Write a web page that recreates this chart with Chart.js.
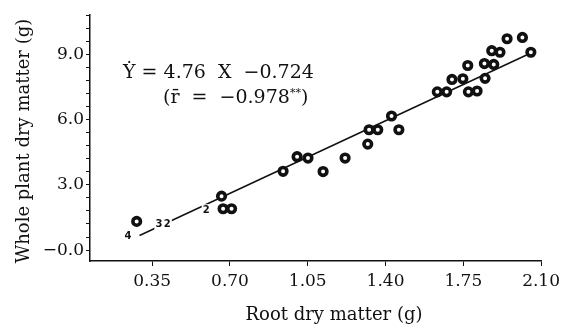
<!DOCTYPE html>
<html>
<head>
<meta charset="utf-8">
<script src="https://cdn.jsdelivr.net/npm/chart.js@4.4.1/dist/chart.umd.min.js"></script>
<style>
    body { margin: 0; background: #fff; }
    #wrap { width: 565px; height: 333px; }
</style>
</head>
<body>
<div id="wrap"><canvas id="scatter-root"></canvas></div>
<script>
// root dry matter (g) vs whole plant dry matter (g)
const rootX = [0.280, 0.662, 0.669, 0.707, 0.939, 1.002, 1.051, 1.119, 1.218,
    1.320, 1.326, 1.365, 1.427, 1.460, 1.633, 1.675, 1.699, 1.748, 1.770,
    1.773, 1.812, 1.845, 1.848, 1.878, 1.887, 1.915, 1.947, 2.016, 2.054];
const plantY = [1.32, 2.48, 1.90, 1.90, 3.62, 4.29, 4.23, 3.61, 4.23,
    4.87, 5.53, 5.53, 6.16, 5.53, 7.27, 7.27, 7.84, 7.87, 8.48,
    7.27, 7.31, 8.57, 7.89, 9.16, 8.53, 9.09, 9.71, 9.77, 9.09];

// Y = 4.76 X - 0.724, drawn between these two ends
const fitX = [0.293, 2.054];
const fitY = [0.671, 9.053];

const xTicks = [0.35, 0.70, 1.05, 1.40, 1.75, 2.10];
const yTicks = [0, 0.6, 1.2, 1.8, 2.4, 3, 3.6, 4.2, 4.8, 5.4, 6, 6.6, 7.2,
    7.8, 8.4, 9, 9.6, 10.2, 10.8];
const yMajor = [0, 3, 6, 9];
const yMajorLabels = ["\u22120.0", "3.0", "6.0", "9.0"];

// small sample-count numbers next to the line
const noteText = ["4", "3", "2", "2"];
const noteX = [0.241, 0.380, 0.418, 0.593];
const noteY = [0.61, 1.17, 1.17, 1.83];

const serif = "'DejaVu Serif', 'Liberation Serif', serif";
const ink = "#111";

const points = rootX.map(function (x, i) {
    return { x: x, y: plantY[i] };
});
const fitLine = fitX.map(function (x, i) {
    return { x: x, y: fitY[i] };
});

const textPlugin = {
    id: "figureText",
    afterDatasetsDraw: function (chart) {
        var ctx = chart.ctx;
        var sx = chart.scales.x;
        var sy = chart.scales.y;
        ctx.save();

        // sample counts
        ctx.font = "bold 10px 'DejaVu Sans', sans-serif";
        ctx.textAlign = "center";
        ctx.textBaseline = "middle";
        for (var i = 0; i < noteText.length; i++) {
            var px = sx.getPixelForValue(noteX[i]);
            var py = sy.getPixelForValue(noteY[i]);
            var w = ctx.measureText(noteText[i]).width;
            ctx.fillStyle = "#fff";
            ctx.fillRect(px - w / 2 - 1, py - 6, w + 2, 12);
            ctx.fillStyle = ink;
            ctx.fillText(noteText[i], px, py);
        }

        // regression text
        ctx.textAlign = "left";
        ctx.textBaseline = "alphabetic";
        ctx.font = "19px " + serif;
        ctx.fillText("\u1E8E = 4.76  X  \u22120.724", 123, 78);
        var line2 = "(r\u0304  =  \u22120.978";
        ctx.fillText(line2, 163, 103);
        var w2 = ctx.measureText(line2).width;
        ctx.font = "11px " + serif;
        ctx.fillText("**", 163 + w2, 96);
        var w3 = ctx.measureText("**").width;
        ctx.font = "19px " + serif;
        ctx.fillText(")", 163 + w2 + w3, 103);

        // axis titles
        ctx.font = "18px " + serif;
        ctx.textAlign = "center";
        ctx.fillText("Root dry matter (g)", 334, 320);
        ctx.translate(24, 141);
        ctx.rotate(-Math.PI / 2);
        ctx.textBaseline = "middle";
        ctx.fillText("Whole plant dry matter (g)", 0, 0);
        ctx.restore();
    },
};

var ctx = document.getElementById("scatter-root").getContext("2d");

new Chart(ctx, {
    type: "scatter",
    data: {
        datasets: [
            {
                data: points,
                pointRadius: 3.8,
                pointHoverRadius: 3.8,
                borderWidth: 3.6,
                backgroundColor: "#fff",
                borderColor: ink,
                order: 0,
            },
            {
                type: "line",
                data: fitLine,
                borderColor: ink,
                borderWidth: 1.5,
                pointRadius: 0,
                fill: false,
                order: 1,
            },
        ],
    },
    options: {
        responsive: true,
        maintainAspectRatio: false,
        animation: false,
        layout: {
            padding: { top: 15, right: 23, left: 0, bottom: 0 },
        },
        plugins: {
            legend: { display: false },
            tooltip: { enabled: false },
        },
        scales: {
            x: {
                type: "linear",
                min: 0.07,
                max: 2.10,
                afterBuildTicks: function (scale) {
                    scale.ticks = xTicks.map(function (v) { return { value: v }; });
                },
                afterFit: function (scale) {
                    scale.height = 72;
                },
                ticks: {
                    autoSkip: false,
                    maxRotation: 0,
                    padding: 5,
                    color: ink,
                    font: { family: serif, size: 17 },
                    callback: function (v) { return v.toFixed(2); },
                },
                grid: {
                    drawOnChartArea: false,
                    tickLength: 5,
                    tickColor: ink,
                },
                border: { color: ink, width: 1.5 },
            },
            y: {
                type: "linear",
                min: -0.5,
                max: 10.8,
                afterBuildTicks: function (scale) {
                    scale.ticks = yTicks.map(function (v) { return { value: v }; });
                },
                afterFit: function (scale) {
                    scale.width = 90;
                },
                ticks: {
                    autoSkip: false,
                    padding: 2,
                    color: ink,
                    font: { family: serif, size: 17 },
                    callback: function (v) {
                        var k = yMajor.indexOf(v);
                        return k < 0 ? "" : yMajorLabels[k];
                    },
                },
                grid: {
                    drawOnChartArea: false,
                    tickLength: 4,
                    tickColor: ink,
                },
                border: { color: ink, width: 1.5 },
            },
        },
    },
    plugins: [textPlugin],
});
</script>
</body>
</html>
